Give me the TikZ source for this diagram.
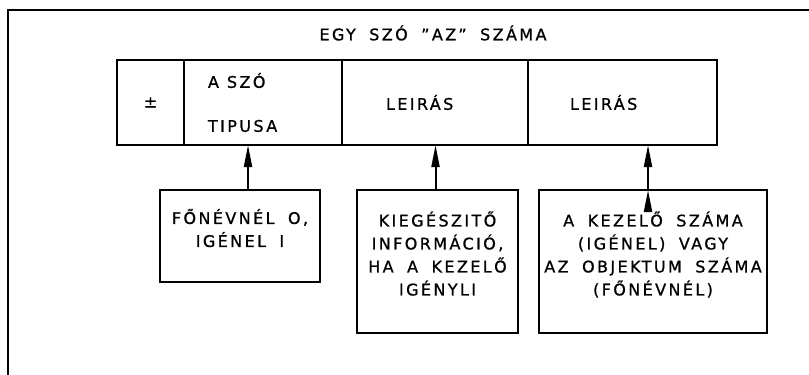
\documentclass[tikz,border=0pt]{standalone}
\usepackage{fontspec}
\setmainfont{DejaVu Sans}[LetterSpace=15, WordSpace=1.8, FakeBold=1]
\usepackage{tikz}
\usetikzlibrary{arrows.meta}
\usetikzlibrary{positioning}

\begin{document}
\begin{tikzpicture}[
        x=1pt, y=1pt,
        node distance=0pt,
        every node/.style={font=\fontsize{16}{23}\selectfont, outer sep=0pt},
        field/.style={draw, line width=1.6pt, minimum height=85pt, inner ysep=0pt, align=left},
        note/.style={draw, line width=1.6pt, anchor=north west, align=center, inner xsep=0pt, text depth=16pt}
    ]
        \useasboundingbox (0,0) rectangle (809,-375);
        \draw[line width=2pt] (809,-10) -- (8,-10) -- (8,-375);

        \node (title) at (433,-33) {EGY SZÓ "AZ" SZÁMA};

        \node (sign) [field, anchor=north west, minimum width=67pt, align=center] at (117,-60) {±};
        \node (tipus) [field, right=of sign, inner xsep=24pt, text width=110pt] {A\hspace{8pt}SZÓ\\[21pt]TIPUSA};
        \node (leir1) [field, right=of tipus, inner xsep=44pt, text width=98pt] {LEIRÁS};
        \node (leir2) [field, right=of leir1, inner xsep=42pt, text width=105pt] {LEIRÁS};

        \node (fonev) [note, minimum width=160pt, minimum height=92pt] at (160,-190) {FŐNÉVNÉL O,\\IGÉNEL I};
        \node (kieg) [note, minimum width=161pt, minimum height=143pt] at (357,-190) {KIEGÉSZITŐ\\INFORMÁCIÓ,\\HA A KEZELŐ\\IGÉNYLI};
        \node (kezelo) [note, minimum width=228pt, minimum height=143pt] at (539,-190) {A KEZELŐ SZÁMA\\(IGÉNEL) VAGY\\AZ OBJEKTUM SZÁMA\\(FŐNÉVNÉL)};

        \path[draw, line width=2pt, -{Triangle[length=22pt, width=8pt]}]
            ([xshift=8pt]fonev.north) edge ([xshift=8pt]fonev.north |- tipus.south)
            ([xshift=-2pt]kieg.north) edge ([xshift=-2pt]kieg.north |- leir1.south)
            ([xshift=-5pt]kezelo.north) edge ([xshift=-5pt]kezelo.north |- leir2.south);
\end{tikzpicture}
\end{document}
